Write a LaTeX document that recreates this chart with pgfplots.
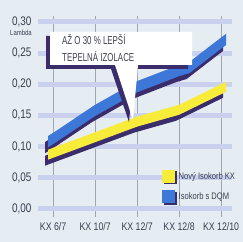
\documentclass[border=0pt]{standalone}
\usepackage{pgfplots}
\pgfplotsset{compat=1.18}
\usepackage{fontspec}
\setmainfont{Liberation Sans}[FakeStretch=0.8]
\newfontfamily\calloutfont{Liberation Sans}[FakeStretch=0.69]
\definecolor{bgc}{HTML}{E6EDF2}
\definecolor{bandc}{HTML}{C9D1EE}
\definecolor{gridc}{HTML}{9EA6B0}
\definecolor{bluec}{HTML}{3D78D8}
\definecolor{yellowc}{HTML}{F8EC3A}
\definecolor{shadowc}{HTML}{3B2D6B}
\definecolor{textc}{HTML}{3A3F4F}
\begin{document}
\begin{tikzpicture}[x=1bp,y=1bp]
\fill[bgc] (0,0) rectangle (243,242);
\begin{axis}[
  at={(38bp,25bp)}, anchor=south west,
  scale only axis, width=194bp, height=201.3bp,
  xmin=-0.36, xmax=4.26, ymin=-0.013, ymax=0.31,
  axis line style={draw=none}, major tick length=0,
  xtick={0,1,2,3,4},
  xticklabels={KX 6/7, KX 10/7, KX 12/7, KX 12/8, KX 12/10},
  ytick={0,0.05,0.1,0.15,0.2,0.25,0.3},
  /pgf/number format/.cd, fixed, fixed zerofill, precision=2, use comma, assume math mode=true,
  /pgfplots/.cd,
  yticklabel style={anchor=east, xshift=-3bp, font=\fontsize{12.5}{13}\selectfont, text=textc},
  xticklabel style={anchor=north, yshift=-2bp, font=\fontsize{11}{12}\selectfont, text=textc},
  grid=major,
  major x grid style={gridc, line width=0.6bp},
  major y grid style={bandc, line width=5bp},
  legend style={at={(rel axis cs:0.639,0.235)}, anchor=north west, draw=none, fill=none,
    inner sep=0pt, row sep=6bp, font=\fontsize{9.5}{10}\selectfont, text=textc,
    cells={anchor=west}},
  legend image code/.code={
    \fill[shadowc] (1.5bp,-8bp) rectangle (14.5bp,5bp);
    \path[#1] (0bp,-6.5bp) rectangle (13bp,6.5bp);},
  reverse legend,
]
% Isokorb s DQM (blue)
\addplot[fill=shadowc, draw=none, xshift=-3bp, yshift=-6bp, forget plot] coordinates {
  (-0.12,0.117) (0,0.122) (1,0.167) (2,0.205) (3,0.231) (3.25,0.236) (4,0.275) (4.12,0.281)
  (4.12,0.263) (4,0.257) (3.25,0.218) (3,0.213) (2,0.187) (1,0.149) (0,0.104) (-0.12,0.099)} -- cycle;
\addplot[fill=bluec, draw=none] coordinates {
  (-0.12,0.117) (0,0.122) (1,0.167) (2,0.205) (3,0.231) (3.25,0.236) (4,0.275) (4.12,0.281)
  (4.12,0.263) (4,0.257) (3.25,0.218) (3,0.213) (2,0.187) (1,0.149) (0,0.104) (-0.12,0.099)} -- cycle;
\addlegendentry{Isokorb s DQM}
% Nový Isokorb KX (yellow)
\addplot[fill=shadowc, draw=none, xshift=-3bp, yshift=-6bp, forget plot] coordinates {
  (-0.12,0.095) (0,0.098) (1,0.123) (2,0.148) (3,0.167) (4,0.200) (4.12,0.204)
  (4.12,0.188) (4,0.184) (3,0.151) (2,0.132) (1,0.107) (0,0.082) (-0.12,0.079)} -- cycle;
\addplot[fill=yellowc, draw=none] coordinates {
  (-0.12,0.095) (0,0.098) (1,0.123) (2,0.148) (3,0.167) (4,0.200) (4.12,0.204)
  (4.12,0.188) (4,0.184) (3,0.151) (2,0.132) (1,0.107) (0,0.082) (-0.12,0.079)} -- cycle;
\addlegendentry{Nový Isokorb KX}
\end{axis}
\node[anchor=center, text=textc, font=\fontsize{7.5}{8}\selectfont, inner sep=0pt] at (21,209) {Lambda};
% callout
\fill[shadowc] (46,173) -- (111,173) -- (129,120) -- (134,173) -- (188,173) -- (188,206) -- (46,206) -- cycle;
\fill[white] (50,210) -- (192,210) -- (192,177) -- (138,177) -- (133,122) -- (115,177) -- (50,177) -- cycle;
\node[anchor=west, inner sep=0pt, text=textc, font=\calloutfont\fontsize{11.5}{12}\selectfont] at (62,202) {AŽ O 30 \% LEPŠÍ};
\node[anchor=west, inner sep=0pt, text=textc, font=\calloutfont\fontsize{11.5}{12}\selectfont] at (62,185) {TEPELNÁ IZOLACE};
\pgfresetboundingbox
\path (0,0) rectangle (243,242);
\end{tikzpicture}
\end{document}
